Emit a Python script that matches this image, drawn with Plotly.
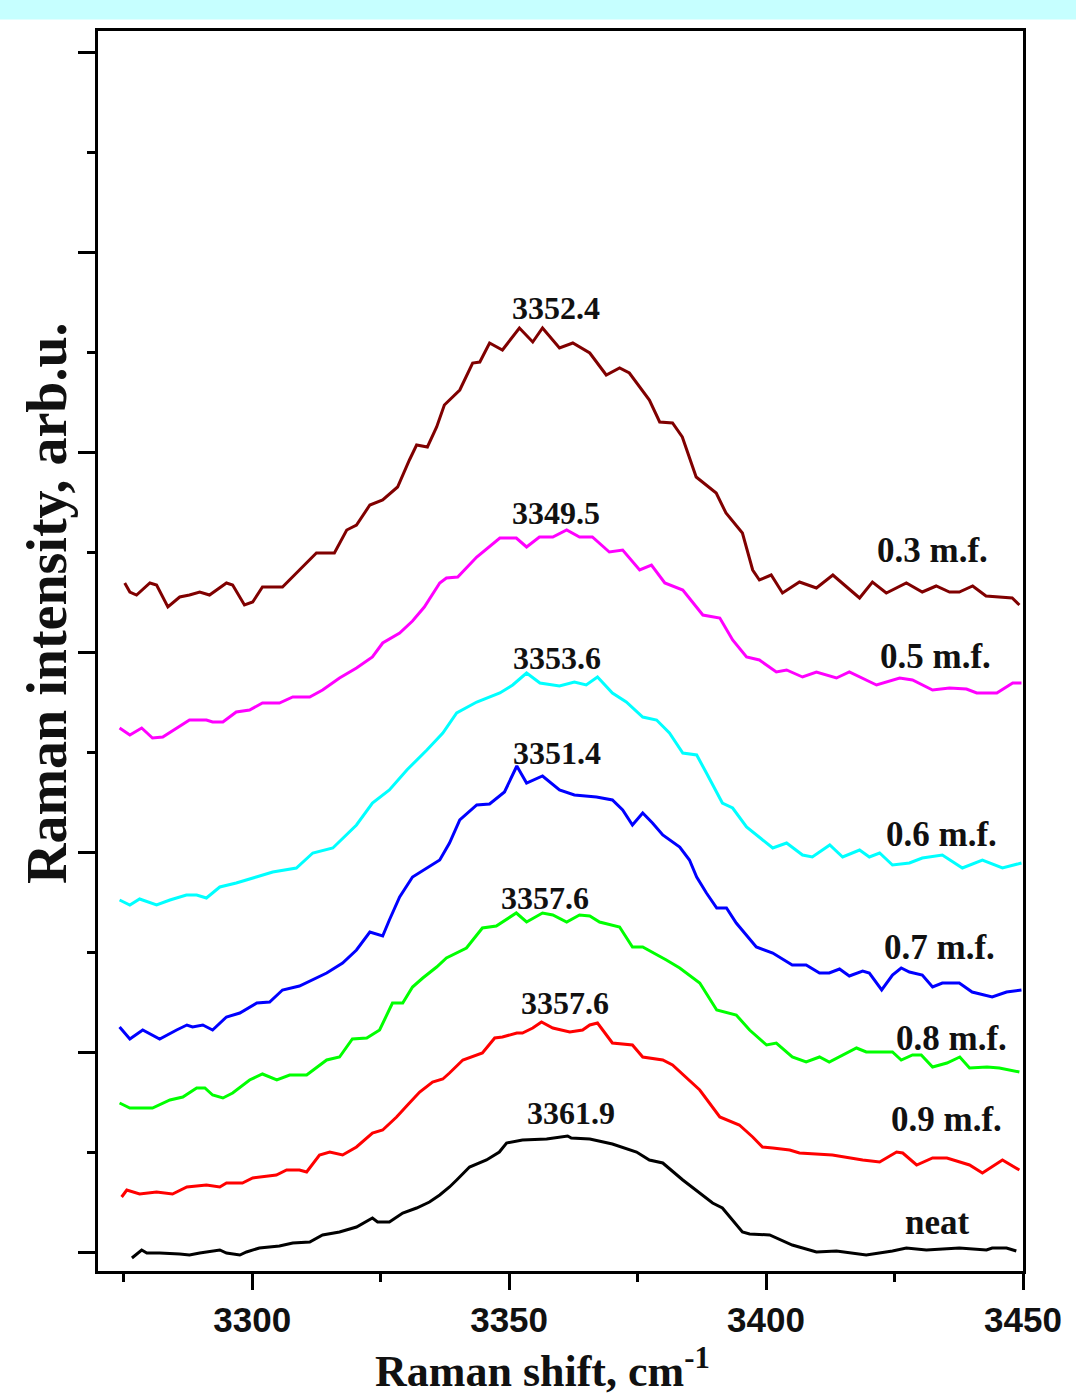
import plotly.graph_objects as go

# Raman OH-stretch band spectra, offset vertically per composition (arb.u.)
x_03 = [3275.2, 3276.2, 3277.5, 3280.1, 3281.4, 3283.6, 3285.9, 3287.8, 3289.8, 3291.7, 3295.0, 3296.2,
        3298.5, 3300.1, 3302.0, 3305.9, 3309.2, 3312.5, 3316.0, 3318.4, 3320.3, 3322.9, 3325.4, 3328.3,
        3330.6, 3332.0, 3334.1, 3335.9, 3337.4, 3340.4, 3342.9, 3344.3, 3346.2, 3348.7, 3352.0, 3354.6,
        3356.5, 3359.8, 3362.4, 3365.7, 3368.9, 3371.5, 3373.4, 3377.3, 3379.3, 3381.8, 3383.7, 3386.4,
        3390.3, 3392.2, 3395.4, 3397.4, 3398.7, 3401.0, 3403.2, 3406.5, 3409.8, 3413.0, 3415.7, 3418.2,
        3420.7, 3423.4, 3427.3, 3430.4, 3433.1, 3435.7, 3437.6, 3440.2, 3442.8, 3447.9, 3449.3]
y_03 = [669, 660, 657, 669, 667, 645, 655, 657, 660, 657, 669, 667,
        647, 650, 665, 665, 682, 699, 699, 722, 727, 747, 752, 765,
        792, 807, 805, 825, 847, 862, 889, 890, 909, 902, 924, 910,
        924, 904, 909, 899, 877, 884, 879, 852, 830, 829, 815, 775,
        759, 739, 719, 682, 672, 677, 659, 670, 664, 677, 665, 654,
        670, 659, 669, 660, 666, 660, 660, 666, 656, 654, 647]

x_05 = [3274.2, 3276.2, 3278.5, 3280.6, 3282.6, 3285.3, 3287.8, 3291.1, 3292.3, 3294.3, 3296.9, 3299.5,
        3302.0, 3305.3, 3307.9, 3311.2, 3313.7, 3317.0, 3320.3, 3323.4, 3325.4, 3328.7, 3331.2, 3333.5,
        3336.5, 3337.8, 3340.0, 3343.7, 3348.2, 3351.4, 3353.4, 3355.9, 3358.5, 3361.2, 3363.7, 3366.2,
        3369.5, 3372.1, 3375.4, 3377.7, 3380.3, 3383.8, 3387.7, 3391.0, 3393.5, 3396.2, 3398.7, 3402.0,
        3404.0, 3407.1, 3409.8, 3413.7, 3416.2, 3421.5, 3426.0, 3428.5, 3432.4, 3435.7, 3439.0, 3441.0,
        3444.9, 3448.0, 3449.7]
y_05 = [524, 517, 524, 514, 515, 524, 532, 532, 530, 530, 540, 542,
        549, 549, 555, 555, 562, 574, 584, 595, 609, 619, 631, 645,
        669, 674, 675, 695, 714, 714, 705, 715, 715, 722, 715, 715,
        700, 702, 682, 687, 669, 662, 637, 634, 612, 595, 592, 580,
        582, 575, 580, 574, 580, 567, 574, 572, 562, 564, 563, 559,
        559, 569, 569]

x_06 = [3274.2, 3276.2, 3278.1, 3280.1, 3281.4, 3284.0, 3287.2, 3289.2, 3291.1, 3293.7, 3296.9, 3300.8,
        3304.0, 3308.6, 3311.8, 3315.7, 3320.3, 3323.4, 3326.7, 3330.1, 3334.0, 3337.1, 3339.8, 3343.7,
        3346.2, 3348.2, 3350.7, 3353.4, 3356.0, 3359.8, 3362.7, 3365.0, 3367.2, 3370.1, 3372.8, 3376.0,
        3378.7, 3381.2, 3383.8, 3386.5, 3388.4, 3391.5, 3393.5, 3396.2, 3401.3, 3404.0, 3407.1, 3409.0,
        3412.4, 3414.9, 3418.2, 3420.1, 3422.1, 3424.6, 3427.9, 3430.4, 3434.3, 3438.2, 3442.1, 3446.0,
        3449.7]
y_06 = [352, 347, 353, 349, 347, 352, 357, 357, 354, 365, 369, 375,
        380, 384, 399, 404, 427, 449, 462, 482, 502, 519, 539, 550,
        555, 559, 567, 579, 569, 566, 570, 567, 575, 559, 550, 535,
        532, 519, 499, 497, 479, 449, 444, 425, 404, 409, 397, 395,
        407, 395, 402, 395, 399, 387, 389, 394, 397, 384, 392, 384,
        389]

x_07 = [3274.2, 3276.2, 3278.7, 3282.0, 3285.3, 3287.3, 3288.4, 3290.4, 3292.3, 3295.0, 3297.6, 3300.9,
        3303.4, 3305.9, 3309.2, 3311.8, 3314.5, 3317.6, 3320.3, 3322.9, 3325.4, 3326.7, 3328.7, 3331.2,
        3336.5, 3338.4, 3340.4, 3343.7, 3346.2, 3349.1, 3351.5, 3353.4, 3356.5, 3359.8, 3362.7, 3367.0,
        3370.1, 3372.1, 3374.0, 3376.0, 3377.9, 3379.9, 3383.2, 3385.1, 3386.5, 3388.4, 3390.4, 3392.3,
        3394.2, 3398.1, 3401.3, 3405.1, 3407.8, 3410.4, 3412.3, 3414.3, 3416.2, 3418.8, 3420.1, 3422.5,
        3424.6, 3426.3, 3427.9, 3430.4, 3432.4, 3434.3, 3437.6, 3440.1, 3444.0, 3446.8, 3449.7]
y_07 = [225, 213, 222, 213, 222, 227, 225, 227, 222, 235, 239, 249,
        250, 262, 266, 272, 279, 289, 302, 320, 316, 332, 355, 375,
        392, 409, 432, 447, 448, 460, 486, 469, 476, 462, 457, 455,
        452, 442, 427, 439, 429, 417, 405, 392, 375, 359, 344, 344,
        329, 305, 299, 287, 287, 279, 279, 283, 276, 281, 279, 262,
        277, 284, 280, 277, 265, 269, 269, 260, 255, 260, 262]

x_08 = [3274.2, 3276.2, 3280.6, 3284.0, 3286.5, 3289.2, 3290.8, 3292.3, 3294.3, 3296.2, 3299.5, 3302.0,
        3304.8, 3307.3, 3310.6, 3314.5, 3317.0, 3319.5, 3322.3, 3324.8, 3327.3, 3329.3, 3331.2, 3333.2,
        3335.9, 3337.8, 3341.7, 3344.8, 3347.5, 3351.4, 3353.4, 3356.5, 3358.5, 3361.2, 3363.7, 3365.7,
        3367.6, 3371.5, 3374.0, 3376.0, 3380.6, 3383.2, 3387.1, 3390.4, 3394.2, 3396.8, 3400.1, 3402.0,
        3405.1, 3407.8, 3410.4, 3412.3, 3417.6, 3419.5, 3424.6, 3426.3, 3428.5, 3430.2, 3432.4, 3435.2,
        3437.7, 3439.6, 3443.0, 3445.4, 3449.3]
y_08 = [149, 144, 144, 152, 155, 164, 164, 157, 154, 159, 172, 178,
        172, 177, 177, 192, 195, 213, 214, 222, 249, 249, 265, 274,
        285, 294, 304, 324, 326, 339, 330, 339, 337, 330, 337, 336,
        330, 325, 305, 305, 292, 284, 269, 242, 237, 222, 207, 209,
        195, 190, 195, 190, 204, 200, 200, 192, 197, 197, 185, 189,
        195, 184, 185, 184, 180]

x_09 = [3274.6, 3275.6, 3278.1, 3281.4, 3284.5, 3287.3, 3291.1, 3293.7, 3295.0, 3298.1, 3300.1, 3304.7,
        3306.7, 3309.2, 3310.6, 3313.1, 3315.1, 3317.6, 3320.3, 3323.4, 3325.4, 3328.1, 3330.6, 3332.6,
        3335.1, 3337.1, 3338.4, 3341.0, 3344.8, 3347.2, 3348.7, 3351.5, 3352.6, 3354.6, 3356.3, 3358.5,
        3361.8, 3364.3, 3365.7, 3367.2, 3370.1, 3374.0, 3376.0, 3379.9, 3381.8, 3385.1, 3387.1, 3391.0,
        3394.8, 3397.4, 3399.3, 3401.3, 3404.6, 3406.5, 3412.9, 3418.8, 3422.1, 3425.4, 3426.6, 3429.3,
        3432.4, 3435.2, 3437.7, 3439.6, 3442.1, 3446.0, 3449.3]
y_09 = [55, 62, 58, 60, 58, 65, 67, 65, 69, 69, 74, 77,
        82, 82, 80, 97, 100, 97, 105, 119, 122, 135, 149, 160,
        170, 173, 179, 192, 199, 214, 215, 219, 219, 224, 230, 224,
        220, 222, 227, 229, 209, 207, 195, 192, 187, 172, 162, 135,
        127, 115, 105, 104, 102, 99, 97, 92, 90, 100, 99, 87,
        94, 94, 90, 87, 79, 92, 82]

x_neat = [3276.6, 3278.5, 3279.5, 3282.0, 3285.9, 3287.8, 3289.8, 3293.7, 3295.0, 3297.6, 3298.9, 3301.4,
          3305.3, 3307.9, 3311.2, 3313.7, 3317.0, 3320.3, 3323.4, 3324.4, 3326.7, 3329.3, 3332.0, 3334.5,
          3336.5, 3338.4, 3339.8, 3342.3, 3345.6, 3348.1, 3349.5, 3352.6, 3357.3, 3361.4, 3362.1, 3365.7,
          3370.1, 3374.8, 3377.3, 3379.9, 3383.8, 3387.1, 3389.6, 3391.5, 3395.4, 3396.8, 3400.7, 3405.1,
          3409.8, 3413.7, 3419.5, 3424.6, 3427.3, 3431.2, 3437.6, 3442.9, 3444.0, 3446.8, 3448.7]
y_neat = [-6, 2, -1, -1, -2, -3, -1, 2, -1, -3, 0, 4,
          6, 9, 10, 17, 20, 25, 34, 30, 30, 39, 44, 50,
          57, 65, 72, 85, 92, 100, 109, 112, 113, 116, 114, 113,
          108, 100, 92, 89, 72, 59, 49, 44, 20, 18, 17, 7,
          0, 1, -3, 1, 4, 2, 4, 2, 4, 4, 1]

series_x = [x_03, x_05, x_06, x_07, x_08, x_09, x_neat]
series_y = [y_03, y_05, y_06, y_07, y_08, y_09, y_neat]
series_colors = ["#800000", "#FF00FF", "#00FFFF", "#0000FF", "#00FF00", "#FF0000", "#000000"]
series_names = ["0.3 m.f.", "0.5 m.f.", "0.6 m.f.", "0.7 m.f.", "0.8 m.f.", "0.9 m.f.", "neat"]

# curve labels (name, x, y)
name_label_x = [3432.4, 3432.9, 3434.2, 3433.7, 3436.1, 3435.2, 3433.4]
name_label_y = [702, 596, 418, 305, 214, 133, 30]

# peak position labels
peak_values = ["3352.4", "3349.5", "3353.6", "3351.4", "3357.6", "3357.6", "3361.9"]
peak_label_x = [3359.2, 3359.2, 3359.4, 3359.4, 3356.9, 3360.8, 3362.1]
peak_label_y = [944, 739, 594, 499, 354, 249, 139]

fig = go.Figure()
for xs, ys, col, nm in zip(series_x, series_y, series_colors, series_names):
    fig.add_trace(go.Scatter(x=xs, y=ys, mode="lines", name=nm,
                             line=dict(color=col, width=3), showlegend=False))

serif = "Liberation Serif, Times New Roman, serif"
sans = "Liberation Sans, Arial, sans-serif"

for nm, lx, ly in zip(series_names, name_label_x, name_label_y):
    fig.add_annotation(x=lx, y=ly, xref="x", yref="y", text=nm, showarrow=False,
                       font=dict(family=serif, size=35, color="#111111", weight="bold"),
                       xanchor="center", yanchor="middle")

for txt, lx, ly in zip(peak_values, peak_label_x, peak_label_y):
    fig.add_annotation(x=lx, y=ly, xref="x", yref="y", text=txt, showarrow=False,
                       font=dict(family=serif, size=32, color="#111111", weight="bold"),
                       xanchor="center", yanchor="middle")

# axis titles
fig.add_annotation(x=-0.0551, y=0.5387, xref="paper", yref="paper",
                   text="Raman intensity, arb.u.", textangle=-90, showarrow=False,
                   font=dict(family=serif, size=56, color="#111111", weight="bold"),
                   xanchor="center", yanchor="middle")
fig.add_annotation(x=0.480, y=-0.1024, xref="paper", yref="paper",
                   text="Raman shift, cm<sup>-1</sup>", showarrow=False,
                   font=dict(family=serif, size=44, color="#111111", weight="bold"),
                   xanchor="center", yanchor="bottom")

# light header band
fig.add_shape(type="rect", xref="paper", yref="paper", x0=-0.2, x1=1.2,
              y0=1.0093, y1=1.05, fillcolor="#C6FFFF", line=dict(width=0), layer="below")

fig.update_xaxes(range=[3270, 3450], tick0=3300, dtick=50,
                 showline=True, linecolor="black", linewidth=3, mirror=True,
                 ticks="outside", ticklen=16, tickwidth=3, tickcolor="black",
                 minor=dict(ticks="outside", ticklen=8, tickwidth=3, tickcolor="black",
                            tick0=3275, dtick=25),
                 tickfont=dict(family=sans, size=35, color="#111111", weight="bold"),
                 showgrid=False, zeroline=False)
fig.update_yaxes(range=[-19, 1221], tick0=0, dtick=200,
                 showline=True, linecolor="black", linewidth=3, mirror=True,
                 ticks="outside", ticklen=17, tickwidth=3, tickcolor="black",
                 minor=dict(ticks="outside", ticklen=8, tickwidth=3, tickcolor="black",
                            tick0=100, dtick=200),
                 showticklabels=False, showgrid=False, zeroline=False)

fig.update_layout(width=1076, height=1398,
                  margin=dict(l=98, r=53, t=31, b=127),
                  plot_bgcolor="white", paper_bgcolor="white")

fig.write_html("out.html")
